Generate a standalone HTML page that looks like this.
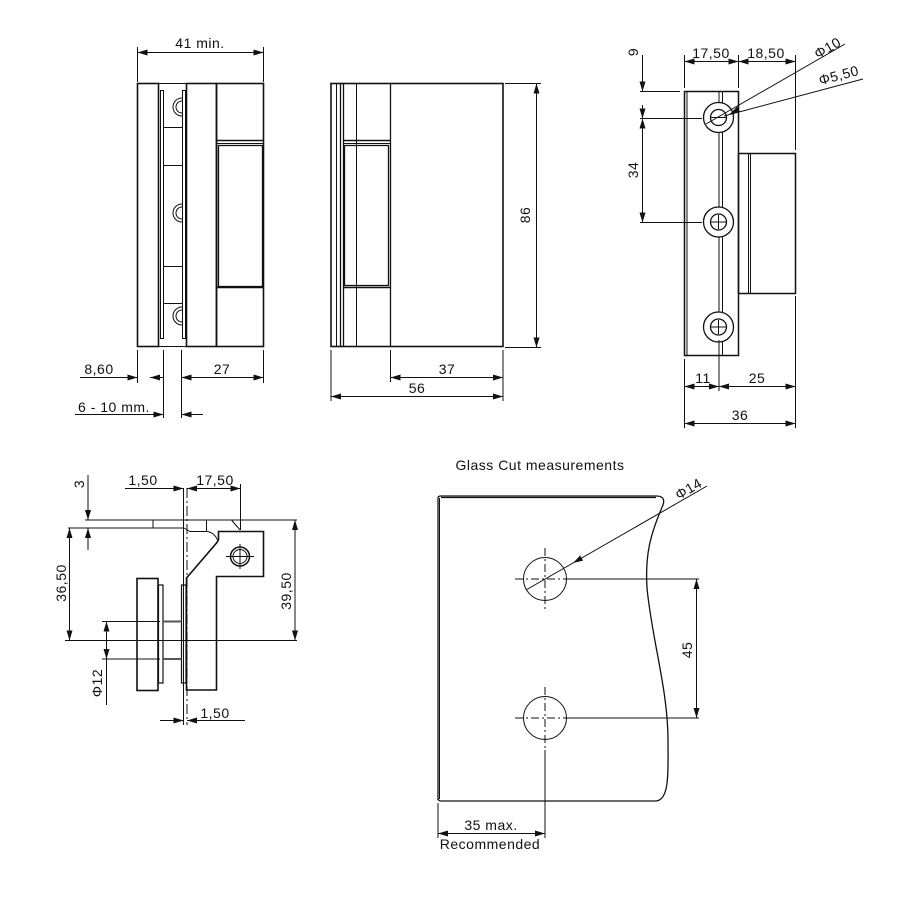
<!DOCTYPE html>
<html><head><meta charset="utf-8"><style>
html,body{margin:0;padding:0;background:#fff;}
svg{display:block;}
text{font-family:"Liberation Sans",sans-serif;font-size:14px;letter-spacing:0.5px;fill:#111;}
</style></head><body>
<svg width="906" height="900" viewBox="0 0 906 900" xmlns="http://www.w3.org/2000/svg">
<defs>
<marker id="a" viewBox="0 0 10 6" refX="10" refY="3" markerWidth="10" markerHeight="6" orient="auto-start-reverse" markerUnits="userSpaceOnUse"><path d="M0,0 L10,3 L0,6 Z" fill="#111"/></marker>
</defs>
<g fill="none" stroke="#111" stroke-width="1">
<!-- View 1 -->
<g stroke-width="1.6">
<rect x="137.5" y="83.5" width="21" height="263"/>
<rect x="186.5" y="83.5" width="30" height="263"/>
<rect x="216.5" y="83.5" width="47" height="263"/>
</g>
<rect x="160.5" y="90.5" width="3" height="248"/>
<rect x="182.5" y="90.5" width="3" height="248"/>
<line x1="158" y1="83.5" x2="186" y2="83.5"/>
<line x1="158" y1="346.5" x2="186" y2="346.5"/>
<line x1="163" y1="127.5" x2="182" y2="127.5"/>
<line x1="163" y1="165.5" x2="182" y2="165.5"/>
<line x1="163" y1="266.5" x2="182" y2="266.5"/>
<line x1="163" y1="303.5" x2="182" y2="303.5"/>
<path d="M182,98 A9,9 0 0 0 182,116 M182,101 A6,6 0 0 0 182,113"/>
<path d="M182,204 A9,9 0 0 0 182,222 M182,207 A6,6 0 0 0 182,219"/>
<path d="M182,307 A9,9 0 0 0 182,325 M182,310 A6,6 0 0 0 182,322"/>
<line x1="216.5" y1="140.5" x2="263.5" y2="140.5" stroke-width="1.5"/>
<line x1="216.5" y1="143.5" x2="263.5" y2="143.5"/>
<rect x="218.5" y="145.5" width="44" height="141" stroke-width="1.3"/>
<line x1="216.5" y1="287.5" x2="263.5" y2="287.5" stroke-width="1.5"/>
<!-- dims view1 -->
<line x1="137.5" y1="47" x2="137.5" y2="82"/>
<line x1="263.5" y1="47" x2="263.5" y2="82"/>
<line x1="137.5" y1="52.5" x2="263.5" y2="52.5" marker-start="url(#a)" marker-end="url(#a)"/>
<line x1="137.5" y1="350" x2="137.5" y2="383"/>
<line x1="263.5" y1="350" x2="263.5" y2="383"/>
<line x1="163.5" y1="350" x2="163.5" y2="418"/>
<line x1="181.5" y1="350" x2="181.5" y2="418"/>
<line x1="80" y1="377.5" x2="137.5" y2="377.5" marker-end="url(#a)"/>
<line x1="163.5" y1="377.5" x2="150" y2="377.5" marker-end="url(#a)"/>
<line x1="181.5" y1="377.5" x2="263.5" y2="377.5" marker-start="url(#a)" marker-end="url(#a)"/>
<line x1="75" y1="414.5" x2="163.5" y2="414.5" marker-end="url(#a)"/>
<line x1="203" y1="414.5" x2="181.5" y2="414.5" marker-end="url(#a)"/>
<!-- View 2 -->
<rect x="331" y="83.5" width="172" height="263" stroke-width="1.6"/>
<line x1="336.5" y1="83.5" x2="336.5" y2="346.5"/>
<line x1="340.5" y1="83.5" x2="340.5" y2="346.5" stroke-width="1.3"/>
<line x1="343.5" y1="83.5" x2="343.5" y2="346.5" stroke-width="1.3"/>
<line x1="356.5" y1="83.5" x2="356.5" y2="346.5"/>
<line x1="390.5" y1="83.5" x2="390.5" y2="346.5" stroke-width="1.3"/>
<line x1="343" y1="140.5" x2="390" y2="140.5" stroke-width="1.5"/>
<line x1="343" y1="143.5" x2="390" y2="143.5"/>
<rect x="344.5" y="145.5" width="44" height="140" stroke-width="1.3"/>
<line x1="343" y1="287.5" x2="390" y2="287.5" stroke-width="1.5"/>
<line x1="505" y1="83.5" x2="541" y2="83.5"/>
<line x1="505" y1="347.5" x2="541" y2="347.5"/>
<line x1="536.5" y1="83.5" x2="536.5" y2="347.5" marker-start="url(#a)" marker-end="url(#a)"/>
<line x1="331" y1="350" x2="331" y2="401"/>
<line x1="390.5" y1="350" x2="390.5" y2="382"/>
<line x1="503" y1="350" x2="503" y2="401"/>
<line x1="390.5" y1="377.5" x2="503" y2="377.5" marker-start="url(#a)" marker-end="url(#a)"/>
<line x1="331" y1="396.5" x2="503" y2="396.5" marker-start="url(#a)" marker-end="url(#a)"/>
<!-- View 3 -->
<rect x="684.5" y="91.5" width="54" height="264" stroke-width="1.5"/>
<line x1="687" y1="91.5" x2="687" y2="355.5"/>
<line x1="719" y1="91.5" x2="719" y2="355.5"/>
<line x1="722.5" y1="91.5" x2="722.5" y2="355.5"/>
<rect x="738.5" y="153.5" width="57" height="140" stroke-width="1.5"/>
<line x1="748.5" y1="153.5" x2="748.5" y2="293.5"/>
<line x1="750.5" y1="153.5" x2="750.5" y2="293.5"/>
<g fill="#fff" stroke-width="1.3">
<circle cx="718.5" cy="117.5" r="15"/><circle cx="718.5" cy="117.5" r="8"/>
<circle cx="718.5" cy="222" r="15"/><circle cx="718.5" cy="222" r="8"/>
<circle cx="718.5" cy="327" r="15"/><circle cx="718.5" cy="327" r="8"/>
</g>
<line x1="711" y1="222" x2="726" y2="222"/><line x1="718.5" y1="215" x2="718.5" y2="229"/>
<line x1="711" y1="327" x2="726" y2="327"/><line x1="718.5" y1="320" x2="718.5" y2="334"/>
<line x1="711" y1="117.5" x2="726" y2="117.5"/>
<line x1="684.5" y1="55" x2="684.5" y2="88"/>
<line x1="738.5" y1="55" x2="738.5" y2="88"/>
<line x1="795.5" y1="55" x2="795.5" y2="150"/>
<line x1="684.5" y1="61.5" x2="738.5" y2="61.5" marker-start="url(#a)" marker-end="url(#a)"/>
<line x1="738.5" y1="61.5" x2="795.5" y2="61.5" marker-start="url(#a)" marker-end="url(#a)"/>
<line x1="640" y1="91.5" x2="680" y2="91.5"/>
<line x1="640" y1="118.5" x2="702" y2="118.5"/>
<line x1="640" y1="222.5" x2="702" y2="222.5"/>
<line x1="642.5" y1="55" x2="642.5" y2="91.5" marker-end="url(#a)"/>
<line x1="642.5" y1="105" x2="642.5" y2="118.5" marker-end="url(#a)"/>
<line x1="642.5" y1="118.5" x2="642.5" y2="222.5" marker-start="url(#a)" marker-end="url(#a)"/>
<line x1="706" y1="124" x2="845" y2="44"/>
<line x1="730" y1="114" x2="734" y2="111.7" marker-start="url(#a)"/>
<line x1="724" y1="116" x2="863" y2="79"/>
<line x1="684.5" y1="359" x2="684.5" y2="428"/>
<line x1="719" y1="340" x2="719" y2="391"/>
<line x1="795.5" y1="296" x2="795.5" y2="428"/>
<line x1="684.5" y1="386.5" x2="719" y2="386.5" marker-start="url(#a)" marker-end="url(#a)"/>
<line x1="719" y1="386.5" x2="795.5" y2="386.5" marker-start="url(#a)" marker-end="url(#a)"/>
<line x1="684.5" y1="423.5" x2="795.5" y2="423.5" marker-start="url(#a)" marker-end="url(#a)"/>
<!-- View 4 -->
<line x1="85" y1="520" x2="297" y2="520"/>
<line x1="68" y1="528" x2="183" y2="528"/>
<line x1="153" y1="520" x2="153" y2="528"/>
<line x1="183.5" y1="488" x2="183.5" y2="725"/>
<line x1="187" y1="488" x2="187" y2="725" stroke-dasharray="10,3,2,3"/>
<path d="M184,528 L190,531.5 L206.5,531.5 Q214,532 217.5,540" />
<line x1="206.5" y1="520" x2="206.5" y2="531.5"/>
<line x1="231.5" y1="520" x2="240" y2="530"/>
<path d="M218.5,531.5 L263.5,531.5 L263.5,576.5 L216.5,576.5 L216.5,690 L186.5,690 L186.5,578 L216.5,543 L218.5,540 Z" stroke-width="1.6"/>
<circle cx="240" cy="556.5" r="9.5" stroke-width="1.5"/>
<circle cx="240" cy="556.5" r="7"/>
<line x1="226" y1="556.5" x2="254" y2="556.5"/>
<line x1="240" y1="544" x2="240" y2="569"/>
<rect x="137" y="578.5" width="21" height="112" stroke-width="1.6"/>
<rect x="158.5" y="585" width="4.5" height="98" stroke-width="1.2"/>
<rect x="181.5" y="585" width="4.5" height="98" stroke-width="1.2"/>
<line x1="163" y1="621.5" x2="181.5" y2="621.5" stroke="#555" stroke-width="2"/>
<line x1="163" y1="659" x2="181.5" y2="659" stroke="#555" stroke-width="2"/>
<line x1="65" y1="640.5" x2="297" y2="640.5"/>
<line x1="102" y1="621.5" x2="160" y2="621.5"/>
<line x1="102" y1="659" x2="160" y2="659"/>
<line x1="88" y1="475" x2="88" y2="520" marker-end="url(#a)"/>
<line x1="88" y1="550" x2="88" y2="528" marker-end="url(#a)"/>
<line x1="69.5" y1="528" x2="69.5" y2="640.5" marker-start="url(#a)" marker-end="url(#a)"/>
<line x1="295" y1="520" x2="295" y2="640.5" marker-start="url(#a)" marker-end="url(#a)"/>
<line x1="106.5" y1="621.5" x2="106.5" y2="659" marker-start="url(#a)" marker-end="url(#a)"/>
<line x1="106.5" y1="659" x2="106.5" y2="705"/>
<line x1="125" y1="488.5" x2="183.5" y2="488.5" marker-end="url(#a)"/>
<line x1="187" y1="488.5" x2="240.5" y2="488.5" marker-start="url(#a)" marker-end="url(#a)"/>
<line x1="240.5" y1="484" x2="240.5" y2="530"/>
<line x1="160" y1="720.5" x2="183.5" y2="720.5" marker-end="url(#a)"/>
<line x1="245" y1="720.5" x2="187" y2="720.5" marker-end="url(#a)"/>
<!-- View 5 -->
<path d="M438,800 L438,498 Q438,496 441,496 L656,496 Q666,496 663,505 C650,535 645,555 647,588 C652,640 668,690 668,740 C668,770 670,800 656,801 L441,801 Q438,801 438,798" stroke-width="1.3"/>
<line x1="441" y1="497.5" x2="656" y2="497.5" stroke-width="1.3"/>
<line x1="439.5" y1="498" x2="439.5" y2="799"/>
<circle cx="545" cy="579" r="21.5"/>
<circle cx="545" cy="718" r="21.5"/>
<g stroke-dasharray="8,3,2,3">
<line x1="515" y1="579" x2="567" y2="579"/>
<line x1="545" y1="548" x2="545" y2="610"/>
<line x1="515" y1="718" x2="567" y2="718"/>
<line x1="545" y1="687" x2="545" y2="750"/>
</g>
<line x1="567" y1="579" x2="699" y2="579"/>
<line x1="567" y1="718" x2="699" y2="718"/>
<line x1="545" y1="750" x2="545" y2="838"/>
<line x1="438" y1="803" x2="438" y2="838"/>
<line x1="696.5" y1="579" x2="696.5" y2="718" marker-start="url(#a)" marker-end="url(#a)"/>
<line x1="526" y1="590" x2="707" y2="486"/>
<line x1="580" y1="559" x2="573" y2="563" marker-end="url(#a)"/>
<line x1="438" y1="833.5" x2="545" y2="833.5" marker-start="url(#a)" marker-end="url(#a)"/>
</g>
<!-- texts -->
<text x="200" y="48" text-anchor="middle">41 min.</text>
<text x="99" y="374" text-anchor="middle">8,60</text>
<text x="222" y="374" text-anchor="middle">27</text>
<text x="114" y="412" text-anchor="middle">6 - 10 mm.</text>
<text x="447" y="374" text-anchor="middle">37</text>
<text x="417" y="393" text-anchor="middle">56</text>
<text transform="translate(530,215) rotate(-90)" text-anchor="middle">86</text>
<text x="711" y="58" text-anchor="middle">17,50</text>
<text x="766" y="58" text-anchor="middle">18,50</text>
<text transform="translate(638,52) rotate(-90)" text-anchor="middle">9</text>
<text transform="translate(638,170) rotate(-90)" text-anchor="middle">34</text>
<text transform="translate(830,52) rotate(-30)" text-anchor="middle">Φ10</text>
<text transform="translate(840,80) rotate(-15)" text-anchor="middle">Φ5,50</text>
<text x="703" y="383" text-anchor="middle">11</text>
<text x="757" y="383" text-anchor="middle">25</text>
<text x="740" y="420" text-anchor="middle">36</text>
<text transform="translate(84,484) rotate(-90)" text-anchor="middle">3</text>
<text transform="translate(66,583) rotate(-90)" text-anchor="middle">36,50</text>
<text transform="translate(291,591) rotate(-90)" text-anchor="middle">39,50</text>
<text transform="translate(102,683) rotate(-90)" text-anchor="middle">Φ12</text>
<text x="143" y="485" text-anchor="middle">1,50</text>
<text x="215" y="485" text-anchor="middle">17,50</text>
<text x="215" y="718" text-anchor="middle">1,50</text>
<text x="540" y="470" text-anchor="middle">Glass Cut measurements</text>
<text transform="translate(691,493) rotate(-30)" text-anchor="middle">Φ14</text>
<text transform="translate(692,650) rotate(-90)" text-anchor="middle">45</text>
<text x="491" y="830" text-anchor="middle">35 max.</text>
<text x="490" y="849" text-anchor="middle">Recommended</text>
</svg>
</body></html>
